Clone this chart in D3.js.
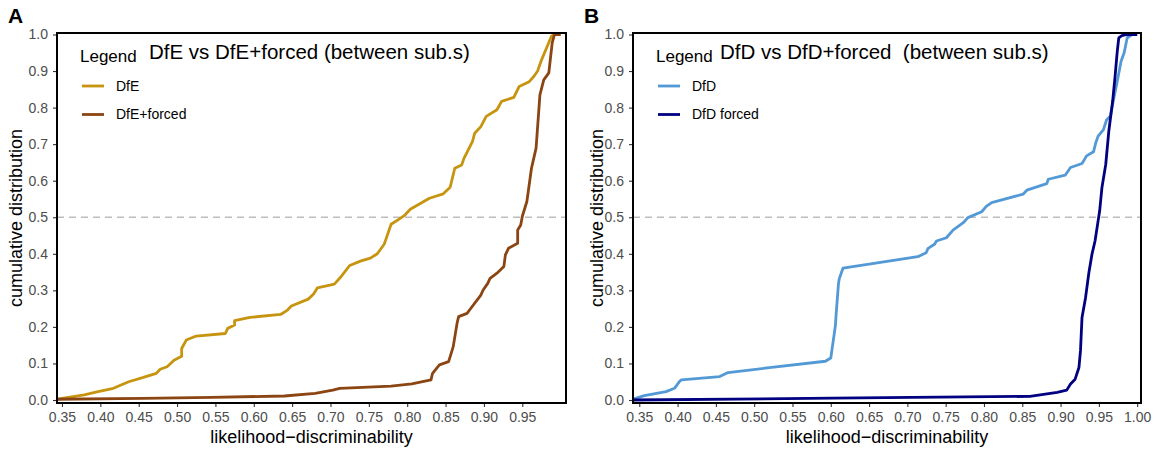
<!DOCTYPE html>
<html>
<head>
<meta charset="utf-8">
<script src="https://cdn.jsdelivr.net/npm/d3@7"></script>
<style>
  body { margin: 0; background: #fff; }
  text { font-family: "Liberation Sans", Arial, sans-serif; }
</style>
</head>
<body>
<svg id="chart" width="1156" height="451"></svg>
<script>
  // tick labels
  const yTicks = [0, 0.1, 0.2, 0.3, 0.4, 0.5, 0.6, 0.7, 0.8, 0.9, 1.0];
  const xTicksA = [0.35, 0.40, 0.45, 0.50, 0.55, 0.60, 0.65, 0.70, 0.75, 0.80, 0.85, 0.90, 0.95];
  const xTicksB = [0.35, 0.40, 0.45, 0.50, 0.55, 0.60, 0.65, 0.70, 0.75, 0.80, 0.85, 0.90, 0.95, 1.00];

  // series, [likelihood-discriminability, cumulative distribution]
  const dfe = [
    [0.343, 0.002], [0.379, 0.014], [0.397, 0.023], [0.417, 0.032], [0.437, 0.05], [0.455, 0.061],
    [0.473, 0.073], [0.478, 0.084], [0.487, 0.091], [0.496, 0.109], [0.506, 0.12], [0.506, 0.141],
    [0.512, 0.164], [0.525, 0.175], [0.563, 0.182], [0.566, 0.196], [0.575, 0.205], [0.575, 0.217],
    [0.595, 0.226], [0.635, 0.234], [0.644, 0.246], [0.649, 0.257], [0.671, 0.276], [0.678, 0.29],
    [0.683, 0.307], [0.705, 0.317], [0.714, 0.338], [0.725, 0.368], [0.739, 0.38], [0.752, 0.388],
    [0.761, 0.40], [0.770, 0.426], [0.772, 0.438], [0.779, 0.481], [0.788, 0.493], [0.797, 0.506],
    [0.804, 0.522], [0.829, 0.552], [0.847, 0.564], [0.856, 0.582], [0.862, 0.634], [0.871, 0.643],
    [0.874, 0.661], [0.885, 0.707], [0.888, 0.73], [0.896, 0.748], [0.903, 0.776], [0.917, 0.794],
    [0.923, 0.817], [0.939, 0.828], [0.946, 0.858], [0.959, 0.871], [0.965, 0.885], [0.970, 0.90],
    [0.975, 0.93], [0.983, 0.97], [0.988, 0.995], [0.991, 1.0], [1.0, 1.0]
  ];
  const dfeForced = [
    [0.343, 0.002], [0.455, 0.0046], [0.545, 0.0073], [0.640, 0.011], [0.680, 0.018], [0.703, 0.027],
    [0.712, 0.032], [0.779, 0.038], [0.806, 0.044], [0.831, 0.055], [0.833, 0.073], [0.842, 0.096],
    [0.854, 0.105], [0.860, 0.146], [0.865, 0.21], [0.867, 0.228], [0.878, 0.237], [0.883, 0.251],
    [0.896, 0.287], [0.899, 0.301], [0.905, 0.319], [0.908, 0.333], [0.917, 0.347], [0.926, 0.365],
    [0.928, 0.397], [0.932, 0.415], [0.944, 0.429], [0.944, 0.465], [0.948, 0.479], [0.950, 0.502],
    [0.956, 0.543], [0.962, 0.634], [0.968, 0.689], [0.973, 0.835], [0.978, 0.876], [0.9846, 0.895],
    [0.989, 0.977], [0.992, 1.0], [1.0, 1.0]
  ];
  const dfd = [
    [0.343, 0.003], [0.3566, 0.012], [0.385, 0.023], [0.396, 0.032], [0.4026, 0.051], [0.405, 0.055],
    [0.455, 0.064], [0.466, 0.075], [0.514, 0.087], [0.593, 0.106], [0.600, 0.115], [0.602, 0.144],
    [0.606, 0.203], [0.607, 0.235], [0.610, 0.317], [0.611, 0.331], [0.616, 0.361], [0.7136, 0.392],
    [0.7245, 0.403], [0.727, 0.415], [0.7355, 0.426], [0.738, 0.435], [0.751, 0.444], [0.7596, 0.465],
    [0.773, 0.485], [0.779, 0.499], [0.797, 0.515], [0.803, 0.53], [0.81, 0.54], [0.851, 0.563],
    [0.856, 0.574], [0.882, 0.592], [0.884, 0.604], [0.906, 0.615], [0.913, 0.636], [0.928, 0.647],
    [0.934, 0.668], [0.943, 0.679], [0.946, 0.704], [0.949, 0.722], [0.956, 0.74], [0.960, 0.766],
    [0.965, 0.777], [0.970, 0.831], [0.974, 0.872], [0.979, 0.927], [0.983, 0.95], [0.987, 0.991],
    [0.992, 0.998], [0.995, 1.0], [1.0, 1.0]
  ];
  const dfdForced = [
    [0.342, 0.0], [0.602, 0.005], [0.86, 0.01], [0.8956, 0.021], [0.908, 0.027], [0.913, 0.044],
    [0.919, 0.057], [0.924, 0.089], [0.926, 0.135], [0.928, 0.226], [0.9326, 0.28], [0.937, 0.349],
    [0.941, 0.399], [0.945, 0.435], [0.949, 0.49], [0.951, 0.517], [0.954, 0.581], [0.959, 0.645],
    [0.963, 0.736], [0.968, 0.818], [0.971, 0.882], [0.974, 0.954], [0.976, 0.991], [0.98, 0.997],
    [0.987, 1.0], [1.0, 1.0]
  ];

  const panels = [
    {
      label: "A", left: 57, right: 566, xDomain: [0.3435, 1.007], xTicks: xTicksA, yTitleX: 22,
      title: "DfE vs DfE+forced (between sub.s)", titleX: 92,
      series: [
        { name: "DfE", data: dfe, color: "#C6940F" },
        { name: "DfE+forced", data: dfeForced, color: "#8B4513" }
      ]
    },
    {
      label: "B", left: 633, right: 1141, xDomain: [0.3418, 1.005], xTicks: xTicksB, yTitleX: 603,
      title: "DfD vs DfD+forced  (between sub.s)", titleX: 87,
      series: [
        { name: "DfD", data: dfd, color: "#5299D5" },
        { name: "DfD forced", data: dfdForced, color: "#000080" }
      ]
    }
  ];

  const plotTop = 33, plotBottom = 403;
  const svg = d3.select("#chart");

  panels.forEach((p, i) => {
    const x = d3.scaleLinear().domain(p.xDomain).range([p.left, p.right]);
    const y = d3.scaleLinear().domain([-0.0082, 1.0041]).range([plotBottom, plotTop]);
    const g = svg.append("g");

    g.append("clipPath").attr("id", "clip" + i)
      .append("rect")
      .attr("x", p.left).attr("y", plotTop)
      .attr("width", p.right - p.left).attr("height", plotBottom - plotTop);

    // median guide
    g.append("line")
      .attr("x1", p.left).attr("x2", p.right)
      .attr("y1", y(0.5)).attr("y2", y(0.5))
      .attr("stroke", "#bdbdbd").attr("stroke-width", 1.3)
      .attr("stroke-dasharray", "7,5");

    const line = d3.line().x(d => x(d[0])).y(d => y(d[1]));

    g.append("g").attr("clip-path", `url(#clip${i})`)
      .selectAll("path")
      .data(p.series)
      .join("path")
        .attr("d", d => line(d.data))
        .attr("fill", "none")
        .attr("stroke", d => d.color)
        .attr("stroke-width", 2.8)
        .attr("stroke-linejoin", "round");

    // axes
    const xAxis = g.append("g")
      .attr("transform", `translate(0,${plotBottom})`)
      .call(d3.axisBottom(x).tickValues(p.xTicks).tickFormat(d3.format(".2f")).tickSize(4).tickPadding(5));
    const yAxis = g.append("g")
      .attr("transform", `translate(${p.left},0)`)
      .call(d3.axisLeft(y).tickValues(yTicks).tickFormat(d3.format(".1f")).tickSize(4).tickPadding(5));
    [xAxis, yAxis].forEach(a => {
      a.select(".domain").remove();
      a.selectAll(".tick line").attr("stroke", "#333").attr("stroke-width", 1.1);
      a.selectAll(".tick text").attr("fill", "#4d4d4d").style("font-size", "14px");
    });

    // panel border
    g.append("rect")
      .attr("x", p.left).attr("y", plotTop)
      .attr("width", p.right - p.left).attr("height", plotBottom - plotTop)
      .attr("fill", "none").attr("stroke", "#000").attr("stroke-width", 2);

    // axis titles
    g.append("text")
      .attr("x", (p.left + p.right) / 2).attr("y", 443)
      .attr("text-anchor", "middle").style("font-size", "18px")
      .text("likelihood\u2212discriminability");
    g.append("text")
      .attr("transform", `translate(${p.yTitleX},${(plotTop + plotBottom) / 2}) rotate(-90)`)
      .attr("text-anchor", "middle").style("font-size", "18px")
      .text("cumulative distribution");

    // panel tag
    g.append("text")
      .attr("x", p.left - 49).attr("y", 23)
      .style("font-size", "21px").style("font-weight", "bold")
      .text(p.label);

    // legend
    g.append("text")
      .attr("x", p.left + 23).attr("y", 62)
      .style("font-size", "17px")
      .text("Legend");
    g.append("text")
      .attr("x", p.left + p.titleX).attr("y", 59)
      .style("font-size", "20.5px").style("white-space", "pre")
      .text(p.title);

    const leg = g.append("g")
      .selectAll("g")
      .data(p.series)
      .join("g")
        .attr("transform", (d, j) => `translate(${p.left + 25},${86 + j * 28.5})`);
    leg.append("line")
      .attr("x1", 0).attr("x2", 22)
      .attr("stroke", d => d.color).attr("stroke-width", 2.8);
    leg.append("text")
      .attr("x", 34).attr("dy", "0.35em")
      .style("font-size", "14px")
      .text(d => d.name);
  });
</script>
</body>
</html>
